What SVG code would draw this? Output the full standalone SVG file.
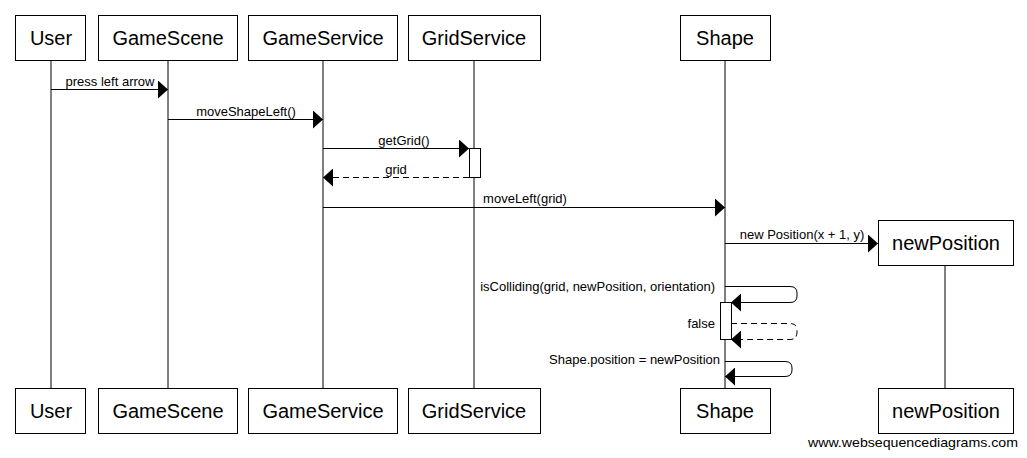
<svg xmlns="http://www.w3.org/2000/svg" width="1027" height="458" viewBox="0 0 1027 458">
<style>
.box{fill:#fff;stroke:#000;stroke-width:1}
.life{stroke:#000;stroke-width:1}
.actor{font-family:"Liberation Sans",Arial,sans-serif;font-size:20px;text-anchor:middle;fill:#000}
.lbl{font-family:"Liberation Sans",Arial,sans-serif;font-size:13px;fill:#000}
.msg{fill:none;stroke:#000;stroke-width:1}
.dash{stroke-dasharray:6,4}
.act{fill:#fff;stroke:#000;stroke-width:1}
</style>
<defs>
<marker id="ah" markerWidth="11" markerHeight="18" refX="10" refY="9" orient="auto" markerUnits="userSpaceOnUse">
<path d="M0,0 L10,9 L0,18 z" fill="#000"/>
</marker>
</defs>
<rect width="1027" height="458" fill="#fff"/>
<g id="lifelines">
<line class="life" x1="51" y1="60" x2="51" y2="388"/>
<line class="life" x1="168" y1="60" x2="168" y2="388"/>
<line class="life" x1="323" y1="60" x2="323" y2="388"/>
<line class="life" x1="474" y1="60" x2="474" y2="388"/>
<line class="life" x1="725" y1="60" x2="725" y2="388"/>
<line class="life" x1="945" y1="265" x2="945" y2="388"/>
</g>
<g id="User">
<rect class="box" x="15.5" y="15.5" width="70" height="45"/>
<text class="actor" x="51" y="45">User</text>
<rect class="box" x="15.5" y="388.5" width="70" height="45"/>
<text class="actor" x="51" y="418">User</text>
</g>
<g id="GameScene">
<rect class="box" x="98.5" y="15.5" width="139" height="45"/>
<text class="actor" x="168" y="45">GameScene</text>
<rect class="box" x="98.5" y="388.5" width="139" height="45"/>
<text class="actor" x="168" y="418">GameScene</text>
</g>
<g id="GameService">
<rect class="box" x="248.5" y="15.5" width="149" height="45"/>
<text class="actor" x="323" y="45">GameService</text>
<rect class="box" x="248.5" y="388.5" width="149" height="45"/>
<text class="actor" x="323" y="418">GameService</text>
</g>
<g id="GridService">
<rect class="box" x="408.5" y="15.5" width="132" height="45"/>
<text class="actor" x="474" y="45">GridService</text>
<rect class="box" x="408.5" y="388.5" width="132" height="45"/>
<text class="actor" x="474" y="418">GridService</text>
<rect class="act" x="469.5" y="148.5" width="11" height="29"/>
</g>
<g id="Shape">
<rect class="box" x="680.5" y="15.5" width="90" height="45"/>
<text class="actor" x="725" y="45">Shape</text>
<rect class="box" x="680.5" y="388.5" width="90" height="45"/>
<text class="actor" x="725" y="418">Shape</text>
<rect class="act" x="720.5" y="302.5" width="11" height="37"/>
</g>
<g id="newPosition">
<rect class="box" x="878.5" y="220.5" width="135" height="45"/>
<text class="actor" x="946" y="250">newPosition</text>
<rect class="box" x="878.5" y="388.5" width="135" height="45"/>
<text class="actor" x="946" y="418">newPosition</text>
</g>
<g id="connectors">
<line class="msg" x1="51" y1="89.5" x2="168" y2="89.5" marker-end="url(#ah)"/>
<text class="lbl" x="110" y="86" text-anchor="middle">press left arrow</text>
<line class="msg" x1="168" y1="119.5" x2="323" y2="119.5" marker-end="url(#ah)"/>
<text class="lbl" x="246" y="116" text-anchor="middle">moveShapeLeft()</text>
<line class="msg" x1="323" y1="148.5" x2="469" y2="148.5" marker-end="url(#ah)"/>
<text class="lbl" x="404" y="145" text-anchor="middle">getGrid()</text>
<line class="msg dash" x1="469" y1="177.5" x2="323" y2="177.5" marker-end="url(#ah)"/>
<text class="lbl" x="396" y="174" text-anchor="middle">grid</text>
<line class="msg" x1="323" y1="207.5" x2="725" y2="207.5" marker-end="url(#ah)"/>
<text class="lbl" x="525" y="203" text-anchor="middle">moveLeft(grid)</text>
<line class="msg" x1="725" y1="243.5" x2="878" y2="243.5" marker-end="url(#ah)"/>
<text class="lbl" x="802" y="239" text-anchor="middle">new Position(x + 1, y)</text>
<path class="msg" d="M725,286.5 H790 Q797,286.5 797,293 V296 Q797,302.5 790,302.5 H731" marker-end="url(#ah)"/>
<text class="lbl" x="715" y="291" text-anchor="end">isColliding(grid, newPosition, orientation)</text>
<path class="msg dash" d="M731,323.5 H790 Q797,323.5 797,330 V332 Q797,339.5 790,339.5 H731" marker-end="url(#ah)"/>
<text class="lbl" x="715" y="328" text-anchor="end">false</text>
<path class="msg" d="M725,361.5 H785 Q792,361.5 792,368 V370 Q792,376.5 785,376.5 H725" marker-end="url(#ah)"/>
<text class="lbl" x="720" y="364" text-anchor="end">Shape.position = newPosition</text>
</g>
<text x="808" y="447" font-family="Liberation Sans,Arial,sans-serif" font-size="13" textLength="210" lengthAdjust="spacingAndGlyphs" fill="#000">www.websequencediagrams.com</text>
</svg>
